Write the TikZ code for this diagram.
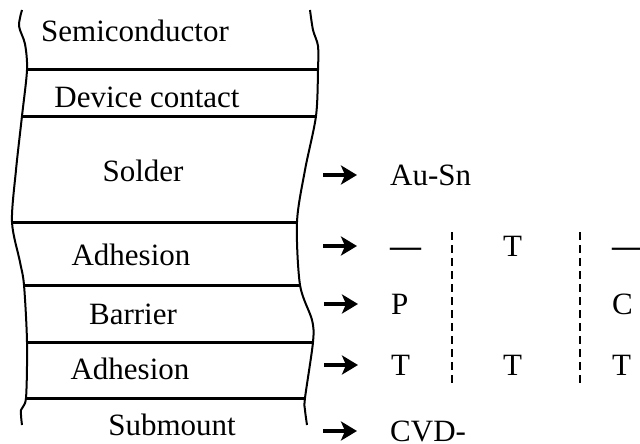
\documentclass[tikz,border=0pt]{standalone}
\usepackage{fontspec}
\setmainfont{Liberation Serif}
\usetikzlibrary{arrows.meta}
\tikzstyle{layer} = [anchor=base, inner sep=0pt, font=\fontsize{31}{36}\selectfont]
\tikzstyle{item} = [anchor=base west, inner sep=0pt, text height=20pt, text depth=0pt, font=\fontsize{31}{36}\selectfont]
\tikzstyle{edge} = [draw, line width=2pt]
\tikzstyle{bound} = [draw, line width=3pt]
\tikzstyle{split} = [draw, line width=2.2pt, dash pattern=on 8pt off 5pt]
\tikzstyle{line} = [draw, line width=3.6pt, -{Stealth[length=16pt,width=19pt,inset=4pt]}]

\begin{document}
\begin{tikzpicture}[x=1pt, y=-1pt]
\useasboundingbox (0,0) rectangle (640,444);
% layer boundaries
\foreach \y/\xl/\xr [count=\i] in {70/27/318, 116/22/316, 222/12/297, 285/24/300, 342/27/313, 398/26/305} {
	\coordinate (L\i) at (\xl,\y);
	\coordinate (R\i) at (\xr,\y);
	\draw[bound] (L\i) -- (R\i);
}
% broken-off sides
\draw[edge] plot[smooth, tension=0.5] coordinates {(22,10) (19,26) (25,44) (L1) (L2) (16,170) (L3) (20,262) (L4) (L5) (L6) (21,410) (22,425)};
\draw[edge] plot[smooth, tension=0.5] coordinates {(310,10) (313,30) (318,46) (R1) (R2) (305,170) (R3) (R4) (312,320) (R5) (R6) (305,410) (307,425)};

\node[layer] (semi) at (135,42) {Semiconductor};
\node[layer] (cont) at (147,107) {Device contact};
\node[layer] (sold) at (143,181) {Solder};
\node[layer] (adh1) at (131,265) {Adhesion};
\node[layer] (barr) at (133,324) {Barrier};
\node[layer] (adh2) at (130,379) {Adhesion};
\node[layer] (subm) at (172,435) {Submount};

% materials
\node[item] (ausn) at (390,185) {Au-Sn};
\node[item] (dsh1) at (390,256) {\textbf{---}};
\node[item] (tia2) at (503,256) {T};
\node[item] (dsh3) at (612,256) {\textbf{---}};
\node[item] (pla1) at (391,314) {P};
\node[item] (cla3) at (612,314) {C};
\node[item] (tib1) at (391,375) {T};
\node[item] (tib2) at (503,375) {T};
\node[item] (tib3) at (612,375) {T};
\node[item] (cvd) at (390,441) {CVD-};

\foreach \n in {ausn, dsh1, pla1, tib1, cvd}
	\path[line] ([xshift=-67pt]\n.west) -- ([xshift=-33pt]\n.west);

\coordinate (s1a) at (452,232);
\coordinate (s1b) at (452,384);
\coordinate (s2a) at (580,232);
\coordinate (s2b) at (580,384);
\path[split] (s1a) -- (s1b);
\path[split] (s2a) -- (s2b);
\end{tikzpicture}
\end{document}
